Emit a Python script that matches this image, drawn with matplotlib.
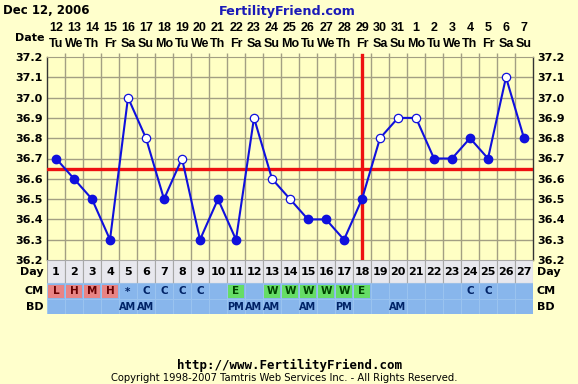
import matplotlib
matplotlib.use("Agg")
import matplotlib.pyplot as plt
from matplotlib.patches import Rectangle
import numpy as np

# ---------------- data ----------------
dates = ["12", "13", "14", "15", "16", "17", "18", "19", "20", "21", "22", "23", "24", "25",
         "26", "27", "28", "29", "30", "31", "1", "2", "3", "4", "5", "6", "7"]
weekdays = ["Tu", "We", "Th", "Fr", "Sa", "Su", "Mo", "Tu", "We", "Th", "Fr", "Sa", "Su", "Mo",
            "Tu", "We", "Th", "Fr", "Sa", "Su", "Mo", "Tu", "We", "Th", "Fr", "Sa", "Su"]
cycle_days = list(range(1, 28))
temps = [36.7, 36.6, 36.5, 36.3, 37.0, 36.8, 36.5, 36.7, 36.3, 36.5, 36.3, 36.9, 36.6, 36.5,
         36.4, 36.4, 36.3, 36.5, 36.8, 36.9, 36.9, 36.7, 36.7, 36.8, 36.7, 37.1, 36.8]
hollow = [False, False, False, False, True, True, False, True, False, False, False, True, True, True,
          False, False, False, False, True, True, True, False, False, False, False, True, False]
cm = ["L", "H", "M", "H", "*", "C", "C", "C", "C", "", "E", "", "W", "W",
      "W", "W", "W", "E", "", "", "", "", "", "C", "C", "", ""]
bd = ["", "", "", "", "AM", "AM", "", "", "", "", "PM", "AM", "AM", "",
      "AM", "", "PM", "", "", "AM", "", "", "", "", "", "", ""]
coverline = 36.65
ovulation_day = 18
temp_ticks = [36.2, 36.3, 36.4, 36.5, 36.6, 36.7, 36.8, 36.9, 37.0, 37.1, 37.2]

# ---------------- style ----------------
W, H = 578, 384
BG = "#FFFFCC"
PLOT_BG = "#FFFFC4"
GRID = "#A39F83"
BLUE = "#1010DD"
RED = "#EE1111"
NARROW = "Liberation Sans"

fig = plt.figure(figsize=(W / 100, H / 100), dpi=100, facecolor=BG)

def fx(px):
    return px / W

def fy(py):
    return 1 - py / H

L, R, T, B = 47, 533, 57, 260
ax = fig.add_axes([fx(L), fy(B), fx(R - L), (B - T) / H])
ax.set_facecolor(PLOT_BG)
ax.set_xlim(0.5, 27.5)
ax.set_ylim(36.2, 37.2)

# grid
for xb in np.arange(1.5, 27.5, 1):
    ax.axvline(xb, color=GRID, lw=1.0, zorder=1)
for yt in temp_ticks[1:-1]:
    ax.axhline(yt, color=GRID, lw=1.0, zorder=1)

# coverline and ovulation line
ax.axhline(coverline, color=RED, lw=2.4, zorder=3)
ax.plot([ovulation_day, ovulation_day], [36.2, 37.21], color=RED, lw=2.4, zorder=3, clip_on=False)

# temperatures
x = np.array(cycle_days)
t = np.array(temps)
hm = np.array(hollow)
ax.plot(x, t, color=BLUE, lw=1.5, zorder=4)
ax.plot(x[~hm], t[~hm], "o", color=BLUE, ms=6, zorder=5)
ax.plot(x[hm], t[hm], "o", mfc="white", mec=BLUE, mew=0.9, ms=6, zorder=5)

# ticks / labels
ax.set_yticks(temp_ticks)
ax.set_yticklabels([f"{v:.1f}" for v in temp_ticks])
ax.tick_params(axis="y", left=True, right=True, labelleft=True, labelright=True,
               length=0, pad=3, labelsize=8, colors="black")
for lab in ax.get_yticklabels():
    lab.set_fontweight("bold")
ax.set_xticks(cycle_days)
ax.set_xticklabels([f"{d}\n{w}" for d, w in zip(dates, weekdays)])
ax.tick_params(axis="x", top=False, bottom=False, labeltop=True, labelbottom=False,
               length=0, pad=5, labelsize=9)
for lab in ax.get_xticklabels():
    lab.set_fontweight("bold")
    lab.set_family(NARROW)
    lab.set_linespacing(1.45)
ax.set_xticks(np.arange(1.5, 27.5, 1), minor=True)
ax.tick_params(axis="x", which="minor", top=True, bottom=False, direction="out",
               length=3, color=GRID, width=1)
ax.set_yticks(np.arange(36.25, 37.2, 0.1), minor=True)
ax.tick_params(axis="y", which="minor", left=False, right=False)

for side in ["left", "right"]:
    ax.spines[side].set_color("#333333")
    ax.spines[side].set_linewidth(1)
ax.spines["top"].set_color(GRID)
ax.spines["bottom"].set_color(GRID)

fig.text(fx(45), fy(38), "Date", ha="right", va="center", fontsize=8, fontweight="bold")

# ---------------- table rows ----------------
DAY_H, CM_H, BD_H = 23, 16, 15
TOT = DAY_H + CM_H + BD_H
tax = fig.add_axes([fx(L), fy(B + TOT), fx(R - L), TOT / H])
tax.set_xlim(0.5, 27.5)
tax.set_ylim(TOT, 0)
tax.axis("off")

CELL_RED = "#E88484"
CELL_GREEN = "#66DD66"
CELL_BLUE = "#88B6EC"
DAY_BG = "#E8E8EE"
red_letters = {"L", "H", "M"}

for i, d in enumerate(cycle_days):
    tax.add_patch(Rectangle((d - 0.5, 0), 1, DAY_H, facecolor=DAY_BG, edgecolor="#A8A8A8", lw=0.8))
    tax.text(d, DAY_H / 2 + 0.5, str(d), ha="center", va="center", fontsize=8, fontweight="bold")
    # CM row
    tax.add_patch(Rectangle((d - 0.5, DAY_H), 1, CM_H, facecolor=CELL_BLUE, edgecolor="#9CC4F0", lw=0.6))
    c = cm[i]
    if c in red_letters:
        tax.add_patch(Rectangle((d - 0.42, DAY_H + 1.5), 0.84, CM_H - 3, facecolor=CELL_RED, edgecolor="none"))
    elif c in ("E", "W"):
        tax.add_patch(Rectangle((d - 0.42, DAY_H + 1.5), 0.84, CM_H - 3, facecolor=CELL_GREEN, edgecolor="none"))
    if c:
        col = "#660000" if c in red_letters else "#002266" if c in ("C", "*") else "#004400"
        tax.text(d, DAY_H + CM_H / 2 + 0.5, c, ha="center", va="center", fontsize=7.5,
                 fontweight="bold", color=col)
    # BD row
    tax.add_patch(Rectangle((d - 0.5, DAY_H + CM_H), 1, BD_H, facecolor=CELL_BLUE, edgecolor="#9CC4F0", lw=0.6))
    if bd[i]:
        tax.text(d, DAY_H + CM_H + BD_H / 2 + 0.5, bd[i], ha="center", va="center", fontsize=7,
                 fontweight="bold", color="#002266")

row_labels = [("Day", DAY_H / 2 + 0.5), ("CM", DAY_H + CM_H / 2 + 0.5), ("BD", DAY_H + CM_H + BD_H / 2 + 0.5)]
for name, yy in row_labels:
    tax.text(0.3, yy, name, ha="right", va="center", fontsize=8, fontweight="bold")
    tax.text(27.7, yy, name, ha="left", va="center", fontsize=8, fontweight="bold")

# ---------------- header / footer ----------------
fig.text(fx(3), fy(11), "Dec 12, 2006", ha="left", va="center", fontsize=8.5, fontweight="bold")
fig.text(fx(287), fy(11), "FertilityFriend.com", ha="center", va="center", fontsize=9.2,
         fontweight="bold", color="#1A1AB8")
fig.text(fx(289), fy(365), "http://www.FertilityFriend.com", ha="center", va="center",
         fontsize=9, fontweight="bold", family="DejaVu Sans Mono")
fig.text(fx(284), fy(378), "Copyright 1998-2007 Tamtris Web Services Inc. - All Rights Reserved.",
         ha="center", va="center", fontsize=7.2)

fig.savefig("out.png", dpi=100, facecolor=BG)
